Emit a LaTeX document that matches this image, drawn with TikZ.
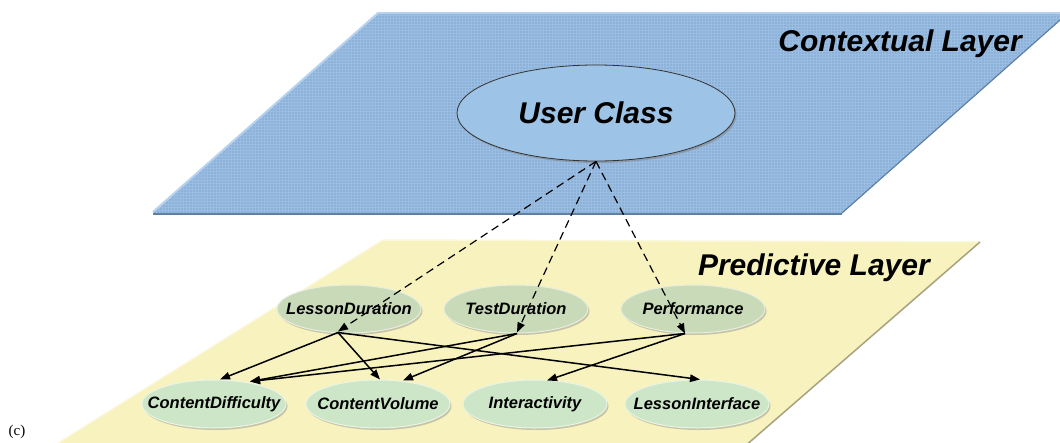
\documentclass[tikz,border=0pt]{standalone}
\usepackage{fontspec}
\setmainfont{Liberation Sans}
\newfontfamily\capfont{Liberation Serif}
\usepackage{tikz}
\usetikzlibrary{arrows.meta,shapes.geometric,shadows}
\definecolor{ctxblue}{HTML}{8CB2DA}
\definecolor{ctxgrid}{HTML}{9BBDE1}
\definecolor{ctxlight}{HTML}{B7D2EE}
\definecolor{ctxdark}{HTML}{5E80A5}
\definecolor{ucblue}{HTML}{9DC3E6}
\definecolor{predyellow}{HTML}{F8F2BE}
\definecolor{predlight}{HTML}{FBF7D9}
\definecolor{preddark}{HTML}{A7A27F}
\definecolor{obsgreen}{HTML}{C9DAB9}
\definecolor{prdgreen}{HTML}{CDE6C7}

\begin{document}
\begin{tikzpicture}[x=1pt,y=-1pt,
  layertitle/.style={anchor=east,inner sep=0pt,font=\fontsize{30}{34}\selectfont\bfseries\itshape},
  varnode/.style={ellipse,minimum width=144pt,minimum height=48pt,inner ysep=0pt,inner xsep=-35pt,
    fill=#1,draw=white!55!#1,line width=1pt,
    font=\fontsize{16.5}{18}\selectfont\bfseries\itshape,
    drop shadow={shadow xshift=1.5pt,shadow yshift=-2pt,fill=black!45,opacity=.45}},
  dep/.style={-{Triangle[length=10pt,width=7.5pt]},line width=1.5pt},
  ctx/.style={dep,line width=1.2pt,dash pattern=on 8pt off 5pt}
]
\useasboundingbox (0,0) rectangle (1060,442);

% predictive layer
\fill[predyellow] (383,240) -- (980,242) -- (729,460) -- (31,460) -- cycle;
\draw[predlight,line width=1.5pt] (31,460) -- (383,240) -- (980,242);
\draw[preddark,line width=1.5pt] (980,242) -- (729,460);

% contextual layer
\fill[ctxblue] (153,213) -- (842,213) -- (1068,13) -- (378,13) -- cycle;
\begin{scope}
  \clip (153,213) -- (842,213) -- (1068,13) -- (378,13) -- cycle;
  \draw[ctxgrid,line width=.4pt,step=3pt] (150,10) grid (1070,216);
\end{scope}
\draw[ctxlight,line width=2pt] (153,212) -- (378,13) -- (1068,13);
\draw[ctxdark,line width=2pt] (153,214) -- (842,214);
\draw[ctxdark,line width=1.2pt] (842,213) -- (1068,13);

\node[layertitle] (CtxTitle) at (1022,44) {Contextual Layer};
\node[layertitle] (PrdTitle) at (930,268) {Predictive Layer};

\node[ellipse,minimum width=278pt,minimum height=96pt,inner sep=0pt,fill=ucblue,
  draw=black!80,line width=.8pt,font=\fontsize{30}{34}\selectfont\bfseries\itshape,
  drop shadow={shadow xshift=1.5pt,shadow yshift=-2pt,fill=black!50,opacity=.5}]
  (UC) at (596,113) {User Class};

% observed variables
\node[varnode=obsgreen] (LD) at (349,309) {LessonDuration};
\node[varnode=obsgreen] (TD) at (516,309) {TestDuration};
\node[varnode=obsgreen] (PF) at (693,309) {Performance};

% predicted variables
\node[varnode=prdgreen] (CD) at (214,404) {ContentDifficulty};
\node[varnode=prdgreen] (CV) at (378,404) {ContentVolume};
\node[varnode=prdgreen] (IA) at (535,404) {Interactivity};
\node[varnode=prdgreen] (LI) at (697,404) {LessonInterface};

\draw[ctx] (UC.south) -- ([xshift=-11pt,yshift=2pt]LD.south);
\draw[ctx] (UC.south) -- ([xshift=1pt,yshift=1pt]TD.south);
\draw[ctx] (UC.south) -- ([xshift=-8pt]PF.south);

\draw[dep] ([xshift=-11pt,yshift=1pt]LD.south) -- ([xshift=6pt]CD.north);
\draw[dep] ([xshift=-11pt,yshift=1pt]LD.south) -- ([xshift=2pt]CV.north);
\draw[dep] ([xshift=-11pt,yshift=1pt]LD.south) -- ([xshift=3pt]LI.north);
\draw[dep] ([xshift=1pt]TD.south) -- ([xshift=36pt,yshift=-2pt]CD.north);
\draw[dep] ([xshift=1pt]TD.south) -- ([xshift=25pt,yshift=-1pt]CV.north);
\draw[dep] ([xshift=-8pt]PF.south) -- ([xshift=36pt,yshift=-2pt]CD.north);
\draw[dep] ([xshift=-8pt]PF.south) -- ([xshift=12pt,yshift=-1pt]IA.north);

\node[font=\capfont\fontsize{15}{17}\selectfont,inner sep=0pt] (Cap) at (17,432) {(c)};
\end{tikzpicture}
\end{document}
